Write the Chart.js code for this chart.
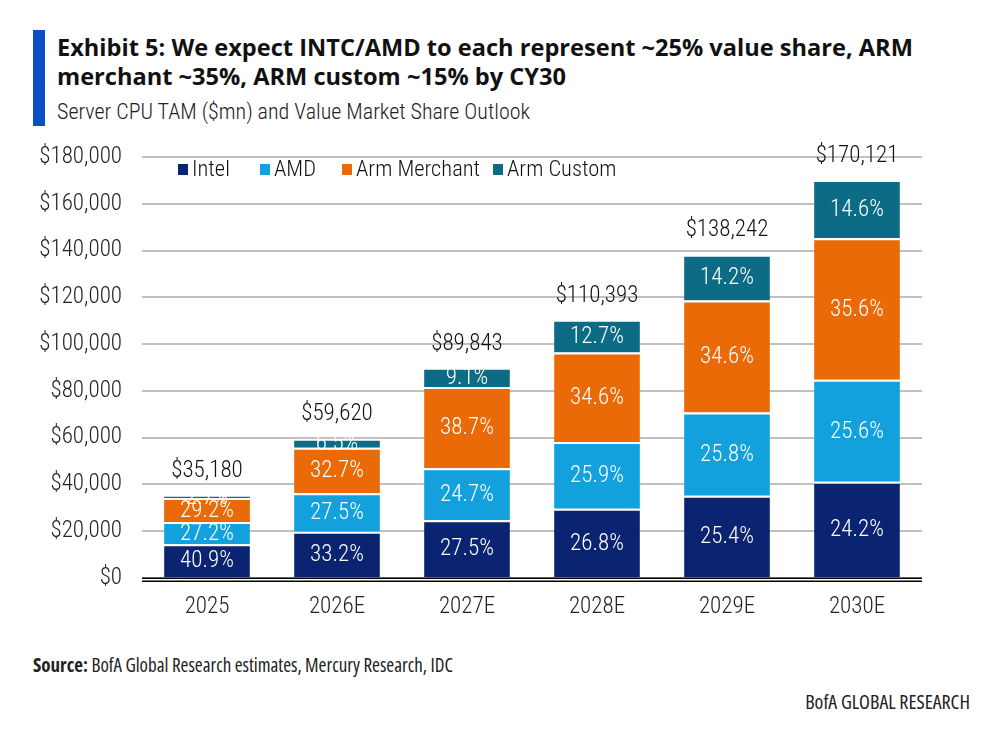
<!DOCTYPE html>
<html>
<head>
<meta charset="utf-8">
<script src="https://cdn.jsdelivr.net/npm/chart.js@4/dist/chart.umd.min.js"></script>
<style>
  html, body { margin:0; padding:0; background:#fff; }
  body { width:1005px; height:746px; position:relative; overflow:hidden; font-family:"Open Sans",sans-serif; }
  .cond { font-family:Roboto,sans-serif; font-stretch:condensed; font-weight:300; }
  .ocond { font-family:"Open Sans",sans-serif; font-stretch:condensed; font-weight:400; }
  #bar { position:absolute; left:33px; top:30px; width:12px; height:96px; background:#0a4fc4; }
  #title { position:absolute; left:57px; top:33px; font-family:"Open Sans",sans-serif; font-weight:700; font-size:23.6px; line-height:29px; color:#111; white-space:nowrap; }
  #subtitle { position:absolute; left:57px; top:99px; font-size:22px; color:#222; white-space:nowrap; }
  #source { position:absolute; left:33px; top:652px; font-size:19px; color:#222; white-space:nowrap; }
  #source b { font-weight:700; }
  #brand { position:absolute; right:35px; top:688px; font-size:20px; color:#222; white-space:nowrap; }
  #wrap { position:absolute; left:0; top:0; width:1005px; height:746px; }
</style>
</head>
<body>
<div id="bar"></div>
<div id="title">Exhibit 5: We expect INTC/AMD to each represent ~25% value share, ARM<br>merchant ~35%, ARM custom ~15% by CY30</div>
<div id="subtitle" class="cond">Server CPU TAM ($mn) and Value Market Share Outlook</div>
<div id="source" class="ocond"><b>Source:</b> BofA Global Research estimates, Mercury Research, IDC</div>
<div id="brand" class="ocond">BofA GLOBAL RESEARCH</div>
<div id="wrap"><canvas id="c"></canvas></div>
<script>
const categories = ["2025", "2026E", "2027E", "2028E", "2029E", "2030E"];
const totals = [35180, 59620, 89843, 110393, 138242, 170121];
const intelShare = [40.9, 33.2, 27.5, 26.8, 25.4, 24.2];
const amdShare = [27.2, 27.5, 24.7, 25.9, 25.8, 25.6];
const armMerchantShare = [29.2, 32.7, 38.7, 34.6, 34.6, 35.6];
const armCustomShare = [2.7, 6.5, 9.1, 12.7, 14.2, 14.6];
const yTicks = [0, 20000, 40000, 60000, 80000, 100000, 120000, 140000, 160000, 180000];

const FAMILY = 'Roboto, sans-serif';
const WEIGHT = "condensed 300";
const CFONT = size => WEIGHT + " " + size + "px " + FAMILY;

const seriesDefs = [
  { label: "Intel", share: intelShare, color: "#0b2471" },
  { label: "AMD", share: amdShare, color: "#12a1dc" },
  { label: "Arm Merchant", share: armMerchantShare, color: "#ea6a08" },
  { label: "Arm Custom", share: armCustomShare, color: "#0c6c86" }
];

const datasets = seriesDefs.map(s => ({
  label: s.label,
  share: s.share,
  data: s.share.map((p, i) => totals[i] * p / 100),
  backgroundColor: s.color,
  borderColor: "#ffffff",
  borderWidth: { top: 2, left: 0, right: 0, bottom: 0 },
  borderSkipped: false,
  barPercentage: 0.66,
  categoryPercentage: 1.0
}));

const fmt = v => "$" + Math.round(v).toLocaleString("en-US");

const labelsPlugin = {
  id: "labelsPlugin",
  afterDatasetsDraw(chart) {
    const ctx = chart.ctx;
    ctx.save();
    ctx.textAlign = "center";
    ctx.textBaseline = "middle";
    ctx.font = CFONT(23);
    chart.data.datasets.forEach((ds, di) => {
      const meta = chart.getDatasetMeta(di);
      meta.data.forEach((el, i) => {
        const cy = (el.y + el.base) / 2;
        ctx.fillStyle = "#ffffff";
        ctx.fillText(ds.share[i].toFixed(1) + "%", el.x, cy + 1);
      });
    });
    const ys = chart.scales.y;
    const xs = chart.scales.x;
    ctx.fillStyle = "#111";
    totals.forEach((t, i) => {
      ctx.fillText(fmt(t), xs.getPixelForValue(i), ys.getPixelForValue(t) - 24);
    });
    // legend
    const items = [178, 260, 342, 493];
    ctx.textAlign = "left";
    ctx.font = CFONT(22.5);
    chart.data.datasets.forEach((ds, di) => {
      const x = items[di];
      ctx.fillStyle = ds.backgroundColor;
      ctx.fillRect(x, 164, 10, 11);
      ctx.fillStyle = "#111";
      ctx.fillText(ds.label, x + 14, 170);
    });
    // double baseline
    const ca = chart.chartArea;
    const y0 = ys.getPixelForValue(0);
    ctx.fillStyle = "#000";
    ctx.fillRect(ca.left, y0 - 0.5, ca.right - ca.left, 1.5);
    ctx.fillRect(ca.left, y0 + 2.5, ca.right - ca.left, 1.5);
    ctx.restore();
  }
};

new Chart(document.getElementById("c"), {
  type: "bar",
  data: { labels: categories, datasets },
  options: {
    responsive: true,
    maintainAspectRatio: false,
    animation: false,
    devicePixelRatio: 1,
    layout: { padding: { left: 0, right: 83, top: 157, bottom: 108 } },
    plugins: { legend: { display: false }, tooltip: { enabled: false } },
    scales: {
      x: {
        stacked: true,
        grid: { display: false, drawTicks: false },
        border: { display: false },
        ticks: { color: "#222", font: { family: FAMILY, weight: WEIGHT, size: 23 }, padding: 15 },
        afterFit: s => { s.height = 60; }
      },
      y: {
        stacked: true,
        min: 0, max: 180000,
        afterBuildTicks: s => { s.ticks = yTicks.map(v => ({ value: v })); },
        grid: { color: "#c0c0c0", lineWidth: 2, drawTicks: false },
        border: { display: false },
        ticks: { color: "#222", font: { family: FAMILY, weight: WEIGHT, size: 23 }, padding: 20, callback: v => fmt(v) },
        afterFit: s => { s.width = 142; }
      }
    }
  },
  plugins: [labelsPlugin]
});
</script>
</body>
</html>
